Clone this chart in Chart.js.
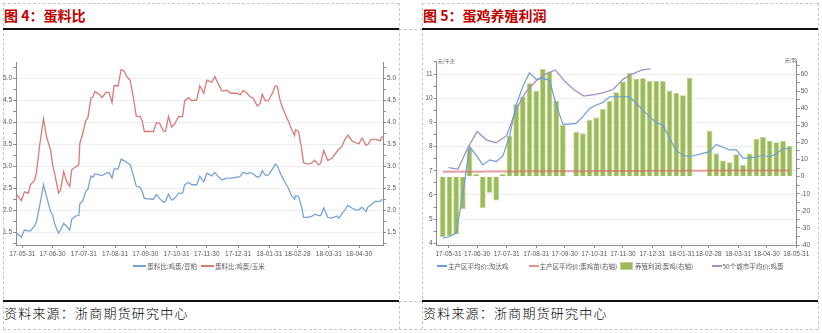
<!DOCTYPE html>
<html>
<head>
<meta charset="utf-8">
<script src="https://cdn.jsdelivr.net/npm/chart.js@4.4.1/dist/chart.umd.min.js"></script>
<style>
  html, body { margin: 0; padding: 0; background: #fff; }
  #page { position: relative; width: 822px; height: 333px; overflow: hidden; font-family: "Noto Sans CJK SC", sans-serif; }
  .dash-v { position: absolute; width: 0; border-left: 1px dashed #c8c8c8; }
  .dash-h { position: absolute; height: 0; border-top: 1px dashed #c8c8c8; }
  .rule { position: absolute; height: 2px; background: #111; }
  .title { position: absolute; top: 6px; font-size: 14px; line-height: 18px; font-weight: bold; color: #c00000; white-space: nowrap; }
  .source { position: absolute; top: 305px; font-size: 13px; line-height: 16px; font-weight: 300; letter-spacing: 1.2px; color: #000; white-space: nowrap; }
  canvas { position: absolute; }
  .legend { position: absolute; top: 261px; height: 10px; display: flex; align-items: center; font-size: 6.5px; color: #595959; white-space: nowrap; }
  .legend .item { display: flex; align-items: center; }
  .legend .swatch-line { height: 1.5px; margin-right: 1px; }
  .legend .swatch-box { width: 13px; height: 8px; margin-right: 2px; box-sizing: border-box; }
</style>
</head>
<body>
<div id="page">
  <div class="dash-h" style="left:3px;top:3px;width:396px"></div>
  <div class="dash-h" style="left:422px;top:3px;width:396px"></div>
  <div class="dash-h" style="left:399px;top:29px;width:23px"></div>
  <div class="dash-h" style="left:399px;top:301px;width:23px"></div>
  <div class="dash-h" style="left:3px;top:329px;width:815px"></div>
  <div class="dash-v" style="left:3px;top:3px;height:326px"></div>
  <div class="dash-v" style="left:399px;top:3px;height:326px"></div>
  <div class="dash-v" style="left:422px;top:3px;height:326px"></div>
  <div class="dash-v" style="left:818px;top:3px;height:326px"></div>

  <div class="title" style="left:4px">图 4：蛋料比</div>
  <div class="rule" style="left:3px;top:28px;width:396px"></div>
  <canvas id="ratioChart" width="396" height="232" style="left:3px;top:30px"></canvas>
  <div class="legend" id="ratioLegend" style="left:3px;width:396px;justify-content:center"></div>
  <div class="rule" style="left:3px;top:300px;width:396px"></div>
  <div class="source" style="left:4px">资料来源：浙商期货研究中心</div>

  <div class="title" style="left:423px">图 5：蛋鸡养殖利润</div>
  <div class="rule" style="left:422px;top:28px;width:396px"></div>
  <canvas id="profitChart" width="396" height="232" style="left:422px;top:30px"></canvas>
  <div class="legend" id="profitLegend" style="left:437px;width:370px"></div>
  <div class="rule" style="left:422px;top:300px;width:396px"></div>
  <div class="source" style="left:423px">资料来源：浙商期货研究中心</div>
</div>

<script>
// ---- 蛋料比 ----
const ratioDates = [
  '2017-05-25','2017-05-30','2017-06-02','2017-06-06','2017-06-08','2017-06-12','2017-06-14','2017-06-17','2017-06-21','2017-06-24',
  '2017-06-28','2017-06-30','2017-07-02','2017-07-04','2017-07-06','2017-07-08','2017-07-11','2017-07-14','2017-07-17','2017-07-19',
  '2017-07-23','2017-07-26','2017-07-27','2017-07-30','2017-08-02','2017-08-04','2017-08-07','2017-08-09','2017-08-11','2017-08-16',
  '2017-08-18','2017-08-22','2017-08-25','2017-08-28','2017-08-30','2017-09-03','2017-09-06','2017-09-09','2017-09-12','2017-09-15',
  '2017-09-18','2017-09-21','2017-09-25','2017-09-27','2017-09-29','2017-10-03','2017-10-08','2017-10-11','2017-10-14','2017-10-18',
  '2017-10-20','2017-10-23','2017-10-26','2017-10-29','2017-11-02','2017-11-06','2017-11-08','2017-11-12','2017-11-15','2017-11-20',
  '2017-11-23','2017-11-27','2017-11-30','2017-12-05','2017-12-08','2017-12-11','2017-12-15','2017-12-20','2017-12-24','2017-12-30',
  '2018-01-02','2018-01-05','2018-01-09','2018-01-12','2018-01-15','2018-01-19','2018-01-22','2018-01-24','2018-01-27','2018-01-30',
  '2018-02-03','2018-02-06','2018-02-08','2018-02-11','2018-02-14','2018-02-19','2018-02-22','2018-02-25','2018-02-26','2018-03-01',
  '2018-03-04','2018-03-06','2018-03-10','2018-03-14','2018-03-17','2018-03-21','2018-03-23','2018-03-26','2018-03-30','2018-04-03',
  '2018-04-08','2018-04-10','2018-04-13','2018-04-16','2018-04-19','2018-04-23','2018-04-26','2018-04-30','2018-05-03','2018-05-07',
  '2018-05-09','2018-05-12','2018-05-16','2018-05-21','2018-05-23'
];
// 蛋料比:鸡蛋/豆粕
const eggSoyRatio = [
  1.48,1.39,1.55,1.53,1.53,1.64,1.74,2.08,2.58,2.31,
  1.97,1.90,1.70,1.58,1.48,1.55,1.70,1.63,1.55,1.80,
  1.87,1.88,2.14,2.22,2.43,2.48,2.78,2.75,2.83,2.80,
  2.79,2.84,2.86,2.73,2.94,2.94,3.16,3.13,3.08,3.03,
  2.80,2.55,2.52,2.42,2.27,2.26,2.25,2.36,2.27,2.18,
  2.20,2.37,2.23,2.27,2.39,2.39,2.58,2.63,2.58,2.58,
  2.77,2.65,2.84,2.78,2.86,2.77,2.69,2.73,2.73,2.75,
  2.77,2.86,2.83,2.86,2.83,2.75,2.78,2.90,2.80,2.80,
  2.93,3.05,3.01,2.84,2.70,2.50,2.33,2.25,2.33,2.31,
  2.08,1.84,1.84,1.86,1.91,1.88,1.88,2.05,1.84,1.82,
  1.87,1.82,1.92,2.01,2.11,2.05,2.01,2.01,2.07,1.97,
  2.08,2.12,2.20,2.20,2.25
];
// 蛋料比:鸡蛋/玉米
const eggCornRatio = [
  2.37,2.22,2.42,2.39,2.58,2.68,2.85,3.45,4.08,3.67,
  3.37,3.03,2.84,2.61,2.39,2.47,2.88,2.65,2.54,2.92,
  2.99,3.03,3.52,3.75,4.04,4.10,4.55,4.58,4.70,4.62,
  4.56,4.68,4.68,4.45,4.83,4.83,5.20,5.16,5.03,4.95,
  4.58,4.14,4.13,4.02,3.79,3.79,3.79,3.99,3.98,3.80,
  3.79,4.13,3.89,3.96,4.13,4.13,4.49,4.56,4.49,4.51,
  4.83,4.66,4.96,4.91,5.04,4.89,4.71,4.73,4.66,4.66,
  4.62,4.72,4.66,4.58,4.55,4.37,4.43,4.64,4.49,4.49,
  4.66,4.83,4.81,4.47,4.28,4.02,3.85,3.70,3.83,3.79,
  3.41,3.08,3.05,3.07,3.14,3.03,3.07,3.36,3.13,3.18,
  3.33,3.38,3.45,3.61,3.71,3.58,3.54,3.51,3.64,3.48,
  3.50,3.61,3.61,3.58,3.69
];
const ratioMonthTicks = ['17-05-31','17-06-30','17-07-31','17-08-31','17-09-30','17-10-31','17-11-30','17-12-31','18-01-31','18-02-28','18-03-31','18-04-30'];
const ratioValueTicks = [1.5, 2.0, 2.5, 3.0, 3.5, 4.0, 4.5, 5.0];

// ---- 蛋鸡养殖利润 ----
const profitFirstWeek = '2017-05-25';
// 养殖利润:蛋鸡(右轴), 元/羽; null = 当周无数据
const layerProfit = [
  -35.5,-34.7,-33.5,-19.1,16.6,1.6,-18.5,-9.4,-14.0,1.6,
  23.8,42.3,46.8,54.6,50.3,63.0,61.4,44.4,30.2,null,
  26.3,25.3,33.1,34.5,39.6,44.2,49.3,55.6,60.8,57.1,
  57.5,56.1,55.9,55.9,50.3,49.1,47.6,57.9,null,null,
  26.9,13.6,9.4,8.4,13.1,6.8,13.5,22.2,23.2,21.1,
  20.1,20.9,17.9
];
// 主产区平均价:淘汰鸡, 元/千克
const culledHenPrice = [
  4.21,4.28,4.42,6.00,8.00,7.65,7.24,7.45,7.38,7.61,
  8.41,9.72,10.48,11.05,10.78,10.82,10.75,9.72,8.93,8.93,
  8.96,9.24,9.58,9.72,9.82,10.06,10.06,10.06,10.06,9.79,
  9.51,9.24,8.99,8.89,8.34,7.83,7.65,7.58,7.65,7.72,
  7.79,8.09,7.97,7.86,7.86,7.52,7.52,7.58,7.63,7.58,
  7.69,7.93,7.89
];
// 主产区平均价:蛋鸡苗(右轴), 元/羽
const chickPrice = [
  2.8,2.8,2.8,2.9,2.9,2.9,2.9,3.0,3.0,3.0,
  3.0,3.0,3.1,3.1,3.1,3.1,3.1,3.2,3.2,3.2,
  3.2,3.2,3.2,3.3,3.3,3.3,3.3,3.3,3.3,3.3,
  3.3,3.4,3.4,3.4,3.4,3.4,3.4,3.4,3.4,3.4,
  3.5,3.5,3.5,3.5,3.5,3.5,3.5,3.5,3.5,3.5,
  3.5,3.5,3.5
];
// 50个城市平均价:鸡蛋, 元/千克 (旬度)
const cityEggDates = [
  '2017-05-31','2017-06-10','2017-06-20','2017-06-30','2017-07-10','2017-07-20','2017-07-31','2017-08-10','2017-08-20','2017-08-31',
  '2017-09-10','2017-09-20','2017-09-30','2017-10-10','2017-10-20','2017-10-31','2017-11-10','2017-11-20','2017-11-30','2017-12-10',
  '2017-12-20','2017-12-29'
];
const cityEggPrice = [
  7.13,7.07,7.93,8.62,8.27,8.16,8.45,9.54,10.25,10.72,
  11.00,11.17,10.70,10.34,10.09,10.15,10.23,10.37,10.78,11.00,
  11.17,11.21
];
const profitMonthTicks = ['17-05-31','17-06-30','17-07-31','17-08-31','17-09-30','17-10-31','17-11-30','17-12-31','18-01-31','18-02-28','18-03-31','18-04-30','18-05-31'];
const priceTicks = [4, 5, 6, 7, 8, 9, 10, 11];
const profitTicks = [-40, -30, -20, -10, 0, 10, 20, 30, 40, 50, 60];

// ---- helpers ----
const BASE = Date.UTC(2017, 4, 31);
function dayOf(s) {
  const p = s.split('-').map(Number);
  return (Date.UTC(p[0], p[1] - 1, p[2]) - BASE) / 86400000;
}
function pad(n) { return n < 10 ? '0' + n : '' + n; }
function dateLabel(day) {
  const d = new Date(BASE + day * 86400000);
  return String(d.getUTCFullYear()).slice(2) + '-' + pad(d.getUTCMonth() + 1) + '-' + pad(d.getUTCDate());
}
function withMinor(majors, step, min, max) {
  const out = [];
  for (let v = Math.ceil(min / step) * step; v <= max + 1e-9; v += step) {
    const r = Math.round(v * 1000) / 1000;
    out.push({ value: r, minor: !majors.includes(r) });
  }
  return out;
}

Chart.defaults.font.family = '"Liberation Sans", Arial, sans-serif';
Chart.defaults.font.size = 6.5;
Chart.defaults.color = '#595959';

const AXIS = '#8c8c8c';
const GRID = '#efefef';

function xAxis(min, max, monthTicks) {
  return {
    type: 'linear', min: min, max: max, offset: false,
    grid: { drawOnChartArea: false, offset: false, tickColor: AXIS, tickLength: 3 },
    border: { color: AXIS },
    ticks: { autoSkip: false, maxRotation: 0, minRotation: 0, padding: 2, callback: v => dateLabel(v) },
    afterBuildTicks: s => { s.ticks = monthTicks.map(t => ({ value: dayOf('20' + t) })); },
    afterFit: s => { s.height = 17; }
  };
}
function yAxis(pos, min, max, majors, step, width, digits, showGrid) {
  return {
    type: 'linear', position: pos, min: min, max: max,
    grid: {
      drawOnChartArea: showGrid, tickColor: AXIS, tickLength: 3,
      color: c => (c.tick && !c.tick.minor) ? GRID : 'rgba(0,0,0,0)'
    },
    border: { color: AXIS },
    ticks: {
      padding: 1, autoSkip: false,
      callback: (v, i, ticks) => ticks[i].minor ? '' : v.toFixed(digits)
    },
    afterBuildTicks: s => { s.ticks = withMinor(majors, step, min, max); },
    afterFit: s => { s.width = width; }
  };
}

function htmlLegend(el, chart, lineLen, columnWidth) {
  chart.data.datasets.forEach(ds => {
    const item = document.createElement('div');
    item.className = 'item';
    if (columnWidth) item.style.width = columnWidth + 'px';
    else item.style.marginRight = '4px';
    const sw = document.createElement('span');
    if (ds.type === 'bar') {
      sw.className = 'swatch-box';
      sw.style.background = ds.backgroundColor;
      sw.style.border = '1px solid ' + ds.borderColor;
    } else {
      sw.className = 'swatch-line';
      sw.style.width = lineLen + 'px';
      sw.style.background = ds.legendColor || ds.borderColor;
    }
    const txt = document.createElement('span');
    txt.textContent = ds.label;
    item.appendChild(sw);
    item.appendChild(txt);
    el.appendChild(item);
  });
}

// ---- 图4 ----
const ratioChart = new Chart(document.getElementById('ratioChart'), {
  type: 'line',
  data: {
    datasets: [
      {
        type: 'line', label: '蛋料比:鸡蛋/豆粕',
        data: ratioDates.map((d, i) => ({ x: dayOf(d), y: eggSoyRatio[i] })),
        borderColor: '#7aa2d8', borderWidth: 1.3, pointRadius: 0, tension: 0, yAxisID: 'y'
      },
      {
        type: 'line', label: '蛋料比:鸡蛋/玉米',
        data: ratioDates.map((d, i) => ({ x: dayOf(d), y: eggCornRatio[i] })),
        borderColor: '#da7b78', borderWidth: 1.3, pointRadius: 0, tension: 0, yAxisID: 'y'
      }
    ]
  },
  options: {
    responsive: false, animation: false, events: [],
    layout: { padding: { top: 32, left: 0, right: 0, bottom: 0 } },
    plugins: { legend: { display: false }, tooltip: { enabled: false } },
    scales: {
      x: xAxis(-6.3, 357.8, ratioMonthTicks),
      y: yAxis('left', 1.21, 5.37, ratioValueTicks, 0.25, 13, 1, true),
      y2: yAxis('right', 1.21, 5.37, ratioValueTicks, 0.25, 16, 1, false)
    }
  }
});
htmlLegend(document.getElementById('ratioLegend'), ratioChart, 13, 0);

// ---- 图5 ----
const weekDays = layerProfit.map((_, k) => dayOf(profitFirstWeek) + 7 * k);

const unitLabels = {
  id: 'unitLabels',
  afterDraw(chart) {
    const { ctx, chartArea } = chart;
    ctx.save();
    ctx.font = '5px "Noto Sans CJK SC", sans-serif';
    ctx.fillStyle = '#595959';
    ctx.textBaseline = 'middle';
    ctx.textAlign = 'left';
    ctx.fillText('元/千克', chartArea.left + 1, chartArea.top - 0.5);
    ctx.textAlign = 'right';
    ctx.fillText('元/羽', chartArea.right, chartArea.top - 1.5);
    ctx.restore();
  }
};

const profitChart = new Chart(document.getElementById('profitChart'), {
  type: 'bar',
  data: {
    datasets: [
      {
        type: 'line', label: '主产区平均价:淘汰鸡', order: 1,
        data: weekDays.map((x, k) => ({ x: x, y: culledHenPrice[k] })),
        borderColor: '#6e9dd8', borderWidth: 1.2, pointRadius: 0, tension: 0, yAxisID: 'y'
      },
      {
        type: 'line', label: '主产区平均价:蛋鸡苗(右轴)', order: 1,
        data: weekDays.map((x, k) => ({ x: x, y: chickPrice[k] })),
        borderColor: 'rgba(218,100,100,0.6)', legendColor: '#e08f8f', borderWidth: 2, pointRadius: 0, tension: 0, yAxisID: 'y1'
      },
      {
        type: 'bar', label: '养殖利润:蛋鸡(右轴)', order: 2,
        data: weekDays.map((x, k) => ({ x: x, y: layerProfit[k] })).filter(p => p.y !== null),
        backgroundColor: '#9bbb59', borderColor: '#bcd48e', borderWidth: 0.8,
        barPercentage: 0.85, categoryPercentage: 1, yAxisID: 'y1'
      },
      {
        type: 'line', label: '50个城市平均价:鸡蛋', order: 1,
        data: cityEggDates.map((d, i) => ({ x: dayOf(d), y: cityEggPrice[i] })),
        borderColor: '#a58fcb', borderWidth: 1.3, pointRadius: 0, tension: 0, yAxisID: 'y'
      }
    ]
  },
  options: {
    responsive: false, animation: false, events: [],
    layout: { padding: { top: 31.7, left: 0, right: 0, bottom: 0 } },
    plugins: { legend: { display: false }, tooltip: { enabled: false } },
    scales: {
      x: xAxis(-12.4, 365.4, profitMonthTicks),
      y: yAxis('left', 3.93, 11.51, priceTicks, 0.5, 14.7, 0, true),
      y1: yAxis('right', -40, 67.2, profitTicks, 5, 21.3, 0, false)
    }
  },
  plugins: [unitLabels]
});
htmlLegend(document.getElementById('profitLegend'), profitChart, 10, 91.5);
</script>
</body>
</html>
